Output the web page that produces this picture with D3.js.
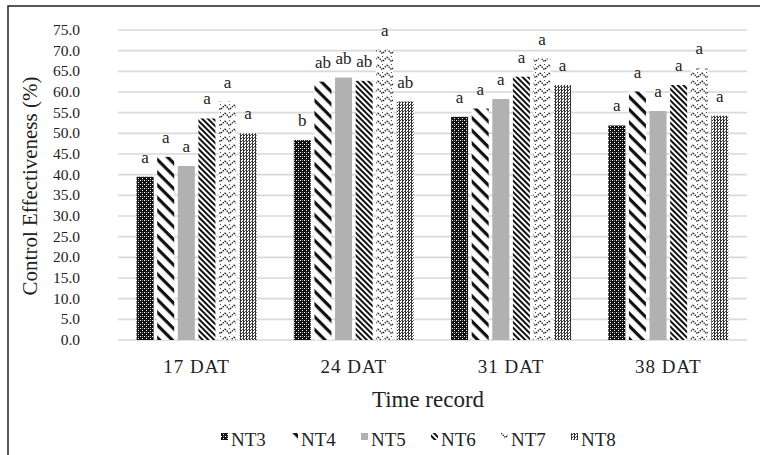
<!DOCTYPE html>
<html>
<head>
<meta charset="utf-8">
<script src="https://cdn.jsdelivr.net/npm/d3@7"></script>
<style>
  body { margin: 0; background: #fff; }
  svg text { font-family: "Liberation Serif", "DejaVu Serif", serif; }
</style>
</head>
<body>
<svg width="760" height="455" font-family="Liberation Serif, serif"></svg>
<script>
// Data
const categories = ["17 DAT", "24 DAT", "31 DAT", "38 DAT"];
const seriesNames = ["NT3", "NT4", "NT5", "NT6", "NT7", "NT8"];
const NT3 = [39.5, 48.4, 54.0, 51.9];
const NT4 = [44.3, 62.5, 56.0, 60.1];
const NT5 = [42.1, 63.5, 58.3, 55.4];
const NT6 = [53.6, 62.7, 63.7, 61.7];
const NT7 = [57.7, 70.2, 68.1, 65.7];
const NT8 = [50.0, 57.7, 61.7, 54.3];
const letters = [
  ["a", "a", "a", "a", "a", "a"],
  ["b", "ab", "ab", "ab", "a", "ab"],
  ["a", "a", "a", "a", "a", "a"],
  ["a", "a", "a", "a", "a", "a"]
];
const yTicks = d3.range(0, 76, 5);

const seriesValues = [NT3, NT4, NT5, NT6, NT7, NT8];

const svg = d3.select("svg");

// outer frame (right and bottom edges cut off in the source image)
svg.append("rect")
    .attr("x", 8).attr("y", 6)
    .attr("width", 800).attr("height", 500)
    .attr("fill", "none")
    .attr("stroke", "#222")
    .attr("stroke-width", 1.5);

// fill patterns
const defs = svg.append("defs");

let p = defs.append("pattern").attr("id", "pNT3")
    .attr("patternUnits", "userSpaceOnUse").attr("width", 4).attr("height", 4);
p.append("rect").attr("width", 4).attr("height", 4).attr("fill", "#111");
p.append("rect").attr("x", 0).attr("y", 0).attr("width", 1).attr("height", 1).attr("fill", "#fff");
p.append("rect").attr("x", 2).attr("y", 2).attr("width", 1).attr("height", 1).attr("fill", "#fff");
p.append("rect").attr("x", 2).attr("y", 0).attr("width", 1).attr("height", 1).attr("fill", "#888");

p = defs.append("pattern").attr("id", "pNT4")
    .attr("patternUnits", "userSpaceOnUse").attr("width", 9).attr("height", 9)
    .attr("patternTransform", "rotate(45)");
p.append("rect").attr("width", 9).attr("height", 9).attr("fill", "#fff");
p.append("rect").attr("width", 9).attr("height", 3.2).attr("fill", "#111");

p = defs.append("pattern").attr("id", "pNT6")
    .attr("patternUnits", "userSpaceOnUse").attr("width", 4).attr("height", 4)
    .attr("patternTransform", "rotate(45)");
p.append("rect").attr("width", 4).attr("height", 4).attr("fill", "#fff");
p.append("rect").attr("width", 4).attr("height", 2).attr("fill", "#111");

p = defs.append("pattern").attr("id", "pNT7")
    .attr("patternUnits", "userSpaceOnUse").attr("width", 9).attr("height", 8);
p.append("rect").attr("width", 9).attr("height", 8).attr("fill", "#fff");
p.append("path").attr("d", "M0,1 L4.5,5.5 L9,1")
    .attr("fill", "none").attr("stroke", "#222").attr("stroke-width", 1.4)
    .attr("stroke-dasharray", "1.4,1");
p.append("rect").attr("x", 4).attr("y", 0).attr("width", 1).attr("height", 1).attr("fill", "#444");

p = defs.append("pattern").attr("id", "pNT8")
    .attr("patternUnits", "userSpaceOnUse").attr("width", 3).attr("height", 3);
p.append("rect").attr("width", 3).attr("height", 3).attr("fill", "#fff");
p.append("rect").attr("x", 0).attr("y", 0).attr("width", 2).attr("height", 1).attr("fill", "#333");
p.append("rect").attr("x", 0).attr("y", 1).attr("width", 1).attr("height", 2).attr("fill", "#333");
p.append("rect").attr("x", 2).attr("y", 2).attr("width", 1).attr("height", 1).attr("fill", "#555");

const fills = {
  NT3: "url(#pNT3)", NT4: "url(#pNT4)", NT5: "#b1b1b1",
  NT6: "url(#pNT6)", NT7: "url(#pNT7)", NT8: "url(#pNT8)"
};

// scales
const x0 = d3.scaleBand().domain(categories).range([118, 747]).padding(0);
const x1 = d3.scaleBand().domain(seriesNames).range([18.6, 138.6])
    .paddingInner(0.175).paddingOuter(0);
const y = d3.scaleLinear().domain([0, 75]).range([340, 30]);

// gridlines
svg.append("g").selectAll("line")
  .data(yTicks)
  .join("line")
    .attr("x1", 118).attr("x2", 747)
    .attr("y1", d => y(d)).attr("y2", d => y(d))
    .attr("stroke", "#d9d9d9")
    .attr("stroke-width", 1.6);

// y tick labels
svg.append("g").selectAll("text")
  .data(yTicks)
  .join("text")
    .attr("x", 80)
    .attr("y", d => y(d) + 5)
    .attr("text-anchor", "end")
    .attr("font-size", 15.5)
    .attr("fill", "#222")
    .text(d => d.toFixed(1));

// bars
const rows = [];
categories.forEach((c, ci) => {
  seriesNames.forEach((s, si) => {
    rows.push({ cat: c, series: s, value: seriesValues[si][ci], letter: letters[ci][si] });
  });
});

svg.append("g").selectAll("rect")
  .data(rows)
  .join("rect")
    .attr("x", d => x0(d.cat) + x1(d.series))
    .attr("y", d => y(d.value))
    .attr("width", x1.bandwidth())
    .attr("height", d => y(0) - y(d.value))
    .attr("fill", d => fills[d.series]);

// significance letters
svg.append("g").selectAll("text")
  .data(rows)
  .join("text")
    .attr("x", d => x0(d.cat) + x1(d.series) + x1.bandwidth() / 2)
    .attr("y", d => y(d.value) - 14)
    .attr("text-anchor", "middle")
    .attr("font-size", 17)
    .attr("fill", "#222")
    .text(d => d.letter);

// category labels
svg.append("g").selectAll("text")
  .data(categories)
  .join("text")
    .attr("x", d => x0(d) + x0.bandwidth() / 2)
    .attr("y", 373)
    .attr("text-anchor", "middle")
    .attr("font-size", 19)
    .attr("letter-spacing", 1)
    .attr("fill", "#222")
    .text(d => d);

// axis titles
svg.append("text")
    .attr("x", 428).attr("y", 407)
    .attr("text-anchor", "middle")
    .attr("font-size", 23)
    .attr("fill", "#222")
    .text("Time record");

svg.append("text")
    .attr("transform", "translate(37,186) rotate(-90)")
    .attr("text-anchor", "middle")
    .attr("font-size", 21)
    .attr("fill", "#222")
    .text("Control Effectiveness (%)");

// legend
const legend = svg.append("g").selectAll("g")
  .data(seriesNames)
  .join("g")
    .attr("transform", (d, i) => `translate(${221 + i * 70},440)`);

legend.append("rect")
    .attr("x", 0).attr("y", -7)
    .attr("width", 7).attr("height", 7)
    .attr("fill", d => fills[d]);

legend.append("text")
    .attr("x", 10).attr("y", 6)
    .attr("font-size", 19)
    .attr("fill", "#222")
    .text(d => d);
</script>
</body>
</html>
